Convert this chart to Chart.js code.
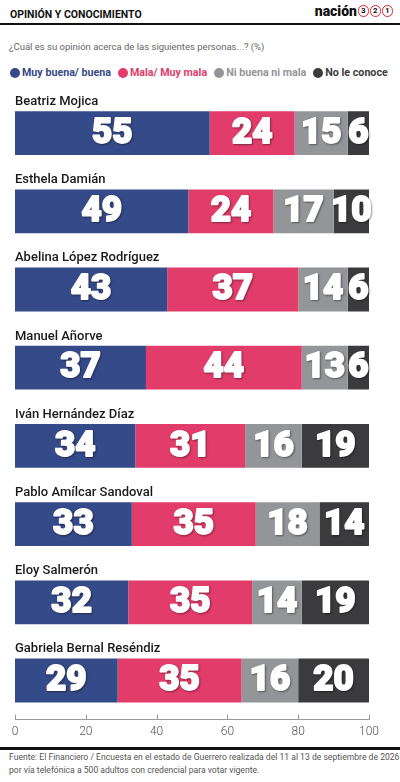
<!DOCTYPE html>
<html>
<head>
<meta charset="utf-8">
<script src="https://cdn.jsdelivr.net/npm/chart.js@4.4.1/dist/chart.umd.min.js"></script>
<style>
  body { margin: 0; width: 400px; height: 782px; background: #fff; font-family: Roboto, "Noto Sans", sans-serif; position: relative; overflow: hidden; }
  .head { position: absolute; left: 10px; top: 8px; font-size: 10.5px; font-weight: 700; color: #111; }
  .logo { position: absolute; right: 7px; top: 3px; font-size: 14px; font-weight: 900; color: #111; display: flex; align-items: center; }
  .logo span.c { display: inline-block; width: 9.5px; height: 9.5px; border: 1.5px solid #e0262a; border-radius: 50%; font-size: 8px; line-height: 9.5px; text-align: center; margin-left: 0.5px; font-weight: 700; }
  .rule { position: absolute; left: 0; width: 400px; background: #111; }
  .sub { position: absolute; left: 9px; top: 41px; font-size: 9.5px; color: #666; }
  #legend { position: absolute; left: 10px; top: 66px; display: flex; font-size: 10.7px; font-weight: 700; }
  #legend div { display: flex; align-items: center; margin-right: 7px; }
  #legend i { display: inline-block; width: 10px; height: 10px; border-radius: 50%; margin-right: 2px; }
  .foot { position: absolute; left: 9px; top: 751px; font-size: 8.6px; color: #555; line-height: 13px; white-space: nowrap; }
  #wrap { position: absolute; left: 0; top: 88px; width: 400px; height: 656px; }
</style>
</head>
<body>
<div class="head">OPINIÓN Y CONOCIMIENTO</div>
<div class="logo">nación<span class="c">3</span><span class="c">2</span><span class="c">1</span></div>
<div class="rule" style="top:23px;height:2px"></div>
<div class="sub">¿Cuál es su opinión acerca de las siguientes personas...? (%)</div>
<div id="legend"></div>
<div id="wrap"><canvas id="chart"></canvas></div>
<div class="rule" style="top:747px;height:3px"></div>
<div class="foot">Fuente: El Financiero / Encuesta en el estado de Guerrero realizada del 11 al 13 de septiembre de 2026<br>por vía telefónica a 500 adultos con credencial para votar vigente.</div>
<script>
// datos
const personas = ['Beatriz Mojica', 'Esthela Damián', 'Abelina López Rodríguez', 'Manuel Añorve',
  'Iván Hernández Díaz', 'Pablo Amílcar Sandoval', 'Eloy Salmerón', 'Gabriela Bernal Reséndiz'];
const buena = [55, 49, 43, 37, 34, 33, 32, 29];
const mala = [24, 24, 37, 44, 31, 35, 35, 35];
const niBuenaNiMala = [15, 17, 14, 13, 16, 18, 14, 16];
const noConoce = [6, 10, 6, 6, 19, 14, 19, 20];
const xTicks = [0, 20, 40, 60, 80, 100];

const series = [
  { label: 'Muy buena/ buena', data: buena, color: '#354a88' },
  { label: 'Mala/ Muy mala', data: mala, color: '#e23c6a' },
  { label: 'Ni buena ni mala', data: niBuenaNiMala, color: '#949598' },
  { label: 'No le conoce', data: noConoce, color: '#3b3b3d' }
];

// leyenda
const legend = document.getElementById('legend');
series.forEach(s => {
  const d = document.createElement('div');
  d.style.color = s.color;
  d.innerHTML = '<i style="background:' + s.color + '"></i>' + s.label;
  legend.appendChild(d);
});

const labelsPlugin = {
  id: 'labels',
  afterDatasetsDraw(chart) {
    const ctx = chart.ctx;
    ctx.save();
    // valores
    ctx.font = '900 35px Roboto';
    ctx.textAlign = 'center';
    ctx.textBaseline = 'middle';
    ctx.lineJoin = 'round';
    chart.data.datasets.forEach((ds, i) => {
      chart.getDatasetMeta(i).data.forEach((bar, j) => {
        const cx = (bar.x + bar.base) / 2, cy = bar.y + 1;
        ctx.shadowColor = 'rgba(0,0,0,0.45)';
        ctx.shadowBlur = 2;
        ctx.shadowOffsetX = 1;
        ctx.shadowOffsetY = 1;
        ctx.fillStyle = '#fff';
        ctx.strokeStyle = '#fff';
        ctx.lineWidth = 1.8;
        ctx.strokeText(ds.data[j], cx, cy);
        ctx.shadowColor = 'transparent';
        ctx.fillText(ds.data[j], cx, cy);
      });
    });
    // nombres
    ctx.font = '500 13px Roboto';
    ctx.textAlign = 'left';
    ctx.textBaseline = 'bottom';
    ctx.fillStyle = '#1a1a1a';
    chart.getDatasetMeta(0).data.forEach((bar, j) => {
      ctx.fillText(personas[j], chart.chartArea.left, bar.y - bar.height / 2 - 3);
    });
    // marcas del eje
    const xs = chart.scales.x;
    ctx.strokeStyle = '#999';
    ctx.lineWidth = 1;
    xTicks.forEach(v => {
      const px = Math.round(xs.getPixelForValue(v)) + 0.5;
      ctx.beginPath();
      ctx.moveTo(px, chart.chartArea.bottom - 5);
      ctx.lineTo(px, chart.chartArea.bottom);
      ctx.stroke();
    });
    ctx.restore();
  }
};

new Chart(document.getElementById('chart'), {
  type: 'bar',
  data: {
    labels: personas,
    datasets: series.map(s => ({
      label: s.label,
      data: s.data,
      backgroundColor: s.color,
      borderWidth: 0,
      barPercentage: 0.56,
      categoryPercentage: 1
    }))
  },
  options: {
    indexAxis: 'y',
    responsive: true,
    maintainAspectRatio: false,
    animation: false,
    layout: { padding: { top: 6, left: 15, right: 31, bottom: 0 } },
    plugins: { legend: { display: false }, tooltip: { enabled: false } },
    scales: {
      x: {
        stacked: true,
        min: 0,
        max: 100,
        afterBuildTicks: axis => { axis.ticks = xTicks.map(v => ({ value: v })); },
        grid: { display: false, drawTicks: false },
        border: { display: true, color: '#999', width: 1 },
        ticks: { color: '#555', font: { family: 'Roboto', size: 12, weight: 300 }, padding: 5, maxRotation: 0 }
      },
      y: {
        stacked: true,
        display: false
      }
    }
  },
  plugins: [labelsPlugin]
});
</script>
</body>
</html>
